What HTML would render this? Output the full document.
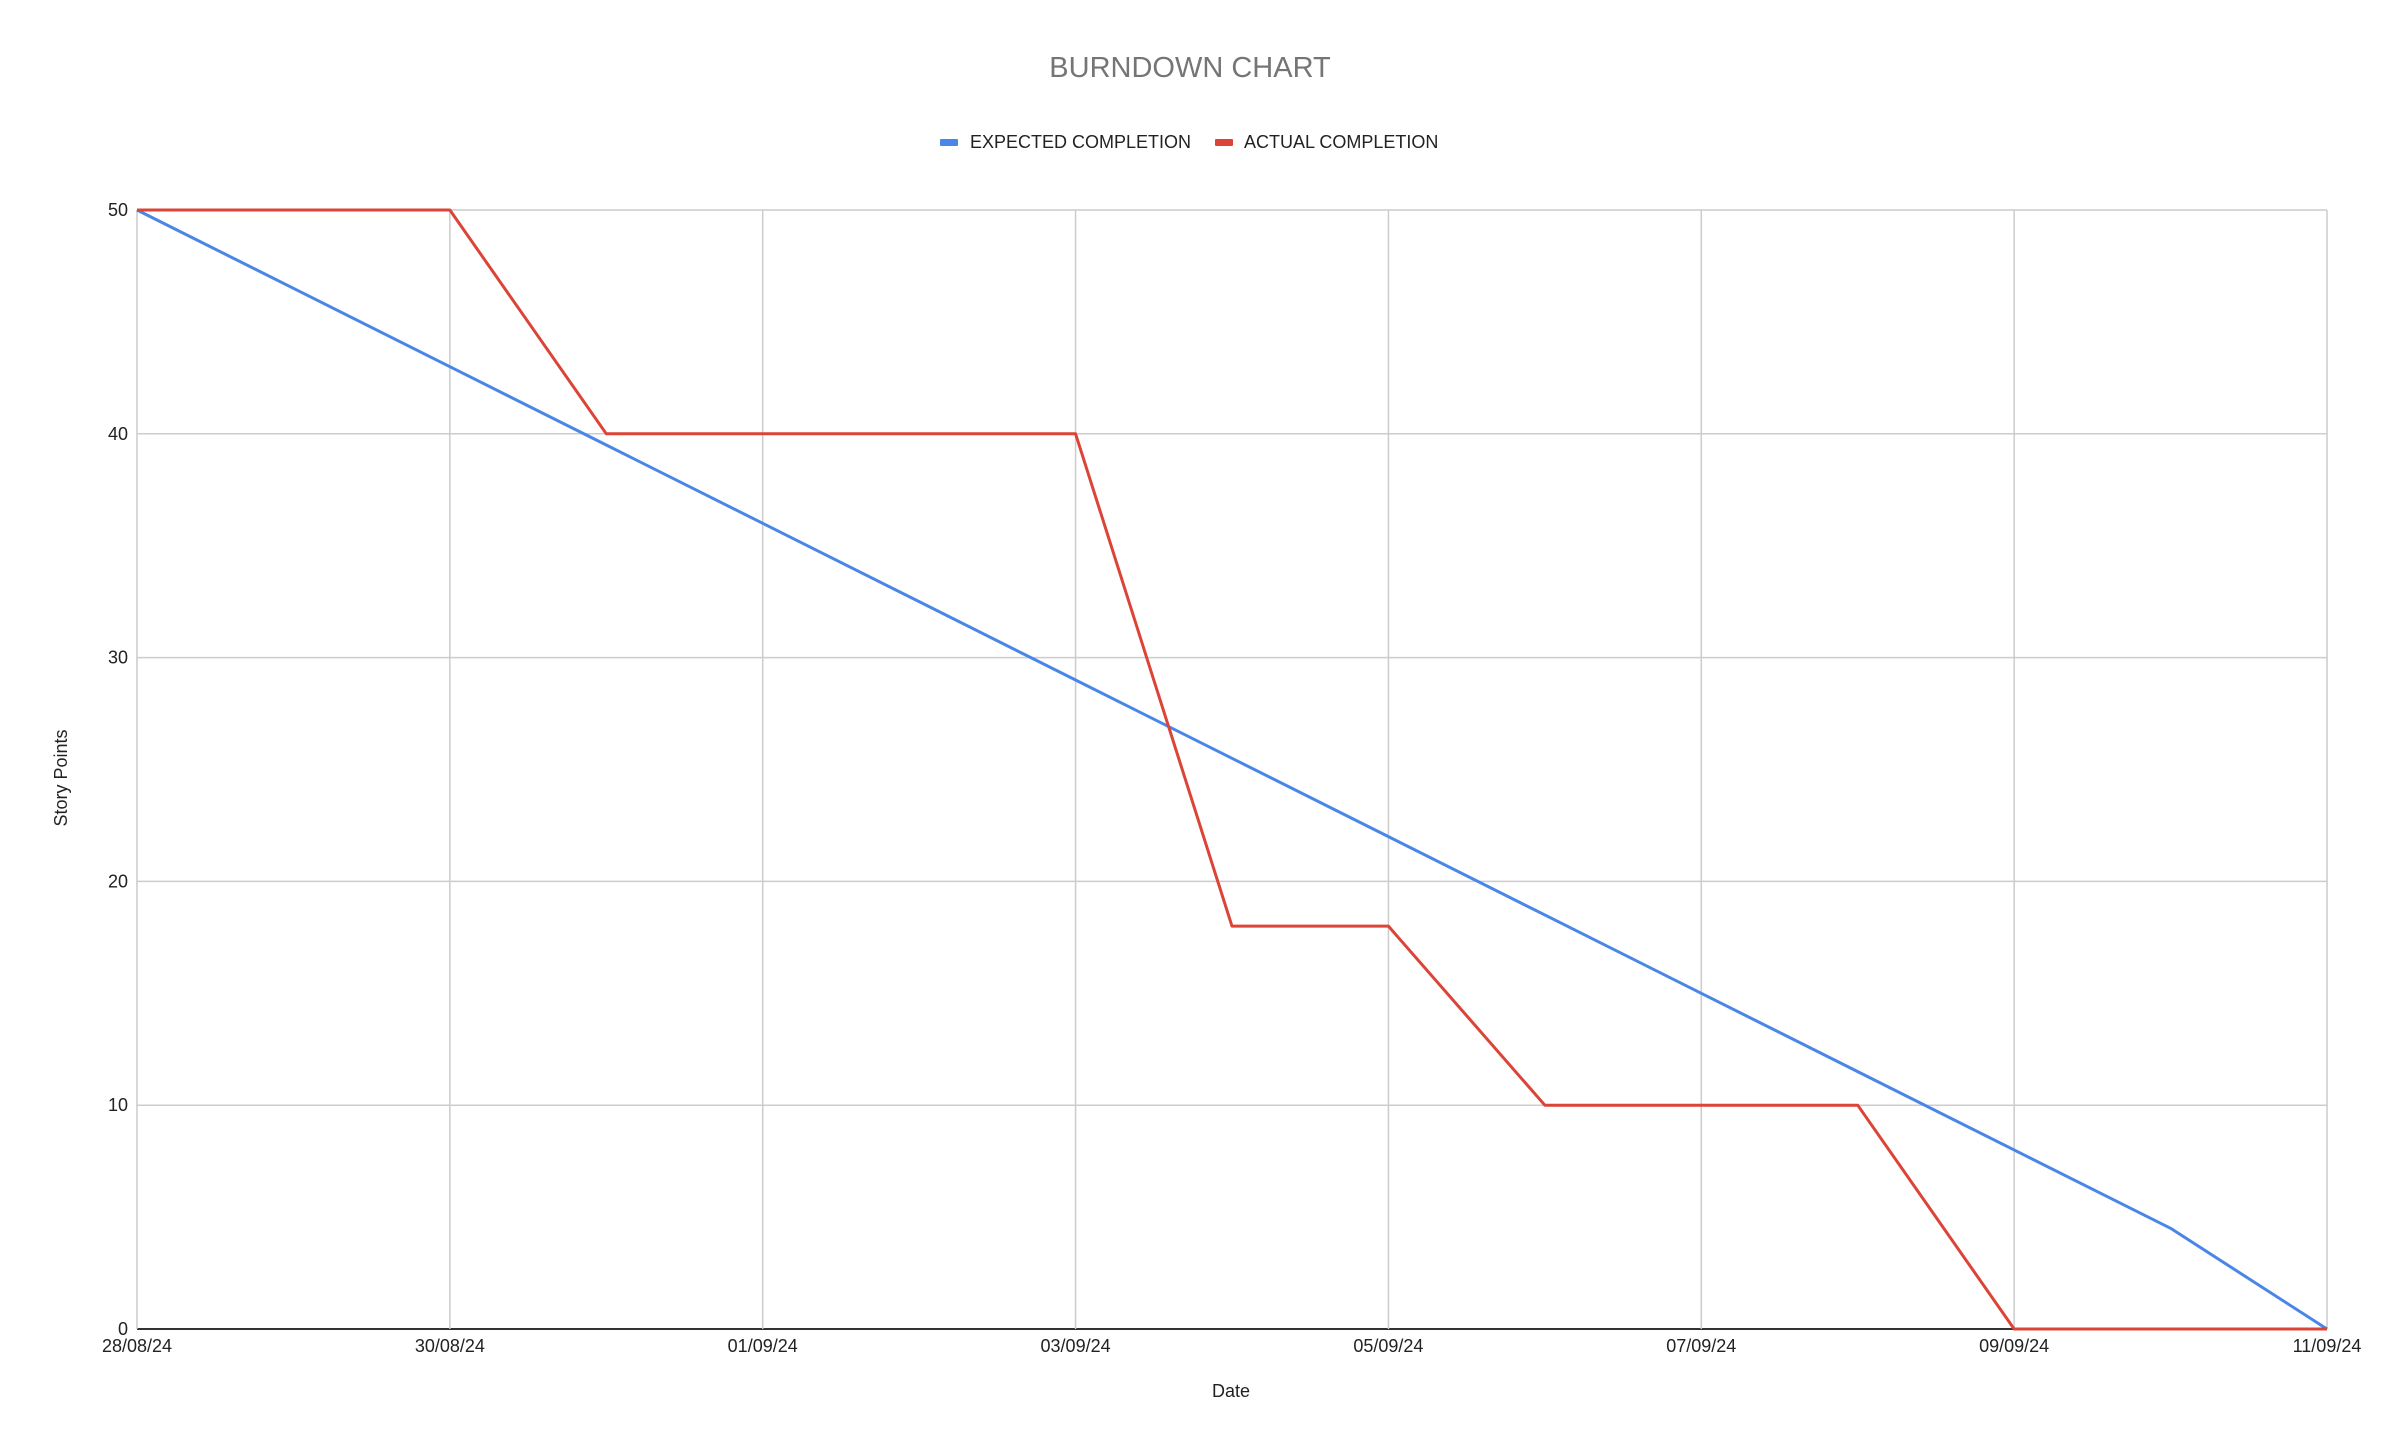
<!DOCTYPE html>
<html><head><meta charset="utf-8"><style>
html,body{margin:0;padding:0;background:#fff;}
svg{display:block;font-family:"Liberation Sans",Arial,sans-serif;}
</style></head><body>
<svg id="chart" width="2384" height="1434" viewBox="0 0 2384 1434">
<text x="1190" y="77" text-anchor="middle" font-size="29" fill="#757575">BURNDOWN CHART</text>
<g>
<g><rect x="940" y="139" width="18" height="7" rx="1" fill="#4a86e8"/><text x="970" y="148" font-size="18" fill="#222">EXPECTED COMPLETION</text></g>
<g><rect x="1215" y="139" width="18" height="7" rx="1" fill="#db4437"/><text x="1244" y="148" font-size="18" fill="#222">ACTUAL COMPLETION</text></g>
</g>
<g id="grid"></g>
<g id="axes"></g>
<g id="series"></g>
<text x="1231" y="1397" text-anchor="middle" font-size="18" fill="#222">Date</text>
<text x="0" y="0" transform="translate(67,778) rotate(-90)" text-anchor="middle" font-size="18" fill="#222">Story Points</text>
</svg>
<script>
const dayLabels = ["28/08/24","30/08/24","01/09/24","03/09/24","05/09/24","07/09/24","09/09/24","11/09/24"];
const labelDays = [0,2,4,6,8,10,12,14];
const yTicks = [0,10,20,30,40,50];
const days = [0,1,2,3,4,5,6,7,8,9,10,11,12,13,14];
const expected = [50,46.5,43,39.5,36,32.5,29,25.5,22,18.5,15,11.5,8,4.5,0];
const actual = [50,50,50,40,40,40,40,18,18,10,10,10,0,0,0];

const L=137,R=2327,T=210,B=1329,NS="http://www.w3.org/2000/svg";
const xs=d=>L+(R-L)*d/14;
const ys=v=>B-(B-T)*v/50;
function mk(tag,attrs,parent){const e=document.createElementNS(NS,tag);for(const k in attrs)e.setAttribute(k,attrs[k]);parent.appendChild(e);return e;}
const grid=document.getElementById('grid'),axes=document.getElementById('axes'),series=document.getElementById('series');
yTicks.forEach(v=>{
  const l=mk('line',{x1:L,x2:R,y1:ys(v),y2:ys(v),stroke:v===0?'#333':'#cccccc','stroke-width':v===0?2:1.5},grid);
  
  
  const t=mk('text',{x:L-9,y:ys(v)+6,'text-anchor':'end','font-size':18,fill:'#222'},axes);
  t.textContent=v;
  
  
});
labelDays.forEach((d,i)=>{
  const l=mk('line',{x1:xs(d),x2:xs(d),y1:T,y2:B,stroke:'#cccccc','stroke-width':1.5},grid);
  
  
  const t=mk('text',{x:xs(d),y:B+23,'text-anchor':'middle','font-size':18,fill:'#222'},axes);
  t.textContent=dayLabels[i];
  
  
});
function line(vals,color,name){
  const p=mk('polyline',{points:days.map((d,i)=>xs(d)+','+ys(vals[i])).join(' '),fill:'none',stroke:color,'stroke-width':3,'stroke-linejoin':'round'},series);
  
  
}
line(expected,'#4a86e8','expected-completion-line');
line(actual,'#db4437','actual-completion-line');
</script>
</body></html>
